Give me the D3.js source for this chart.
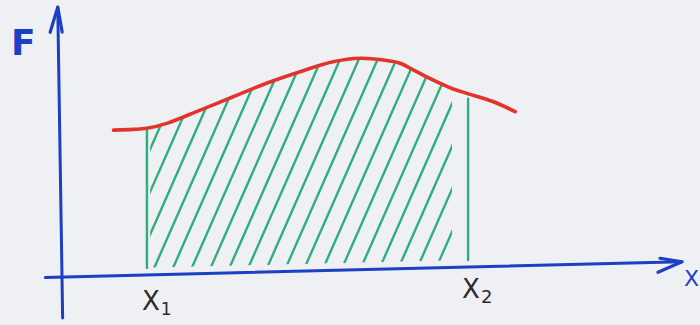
<!DOCTYPE html>
<html>
<head>
<meta charset="utf-8">
<script src="https://cdn.jsdelivr.net/npm/d3@7"></script>
<style>
  html, body { margin: 0; padding: 0; background: #eff0f4; }
  svg { display: block; }
</style>
</head>
<body>
<svg id="chart" width="700" height="325"></svg>
<script>
// Force curve F(x) and the work interval [x1, x2]
const curveX = [0.83, 1.15, 1.37, 1.69, 2.23, 2.76, 3.30, 3.84, 4.37, 4.81, 5.18, 5.45, 5.72, 5.98, 6.31, 6.53, 6.95, 7.31];
const curveF = [5.60, 5.61, 5.64, 5.81, 6.29, 6.77, 7.26, 7.67, 8.02, 8.13, 8.04, 7.90, 7.56, 7.23, 6.86, 6.68, 6.34, 5.93];
const bounds = [1.37, 6.55];
const boundLabels = ["1", "2"];
const axisLabels = ["F", "X"];

const BLUE = "#1c3fc4", RED = "#e2342c", GREEN = "#2eae7d", INK = "#2b2b2b";

const svg = d3.select("#chart");
const x = d3.scaleLinear().domain([0, 10]).range([62, 682]);
const y = d3.scaleLinear().domain([0, 10]).range([277, 17]);

const pts = curveX.map((v, i) => ({ x: v, f: curveF[i] }));
const fAt = d3.scaleLinear().domain(curveX).range(curveF);

// Slightly slanted paper: horizontal lines drop a little towards the left
const paper = svg.append("g")
  .attr("transform", `translate(${x(0)},0) skewY(-1.41) translate(${-x(0)},0)`);

// Hatched area under the curve between x1 and x2
const gap = 7;       // hatch stops short of the x axis
const rightInset = 13;
const clipArea = d3.area()
  .x(d => d.x)
  .y0(y(0) - gap)
  .y1(d => d.y)
  .curve(d3.curveLinear);
const clipPts = d3.range(0, 101).map(i => {
  const xv = bounds[0] + (bounds[1] - bounds[0]) * i / 100;
  return { x: x(xv), y: y(fAt(xv)) + 1 };
}).filter(d => d.x >= x(bounds[0]) + 3 && d.x <= x(bounds[1]) - rightInset);

paper.append("clipPath").attr("id", "hatch-clip")
  .append("path").attr("d", clipArea(clipPts));

const angle = 66 * Math.PI / 180;
const span = 260;
const dx = span / Math.tan(angle);
const step = 19;
const hatchStarts = d3.range(x(bounds[0]) - dx + 6, x(bounds[1]) + 4, step);
paper.append("g").attr("clip-path", "url(#hatch-clip)")
  .selectAll("line").data(hatchStarts).join("line")
  .attr("x1", d => d).attr("y1", y(0))
  .attr("x2", d => d + dx).attr("y2", y(0) - span)
  .attr("stroke", GREEN).attr("stroke-width", 2.4).attr("stroke-linecap", "round");

// Vertical bounds at x1 and x2
paper.selectAll("line.bound").data(bounds).join("line")
  .attr("class", "bound")
  .attr("x1", d => x(d)).attr("x2", d => x(d))
  .attr("y1", y(0) - gap)
  .attr("y2", (d, i) => y(fAt(d)) + (i === 0 ? 0 : 5))
  .attr("stroke", GREEN).attr("stroke-width", 2.4).attr("stroke-linecap", "round");

// Force curve
paper.append("path")
  .attr("d", d3.line().x(d => x(d.x)).y(d => y(d.f)).curve(d3.curveCatmullRom)(pts))
  .attr("fill", "none").attr("stroke", RED).attr("stroke-width", 3.6)
  .attr("stroke-linecap", "round").attr("stroke-linejoin", "round");

// x axis with open arrowhead
const xStart = -0.27, xEnd = 10;
paper.append("line")
  .attr("x1", x(xStart)).attr("y1", y(0))
  .attr("x2", x(xEnd)).attr("y2", y(0))
  .attr("stroke", BLUE).attr("stroke-width", 3).attr("stroke-linecap", "round");
const tx = x(xEnd), ty = y(0);
paper.append("path")
  .attr("d", `M${tx - 22},${ty - 4} L${tx},${ty} L${tx - 24},${ty + 10}`)
  .attr("fill", "none").attr("stroke", BLUE).attr("stroke-width", 3.2)
  .attr("stroke-linecap", "round").attr("stroke-linejoin", "round");

// y axis with open arrowhead
const yAxis = svg.append("g")
  .attr("transform", `rotate(-0.9, ${x(0)}, ${y(0)})`);
const yBottom = -1.58, yTop = 10.38;
yAxis.append("line")
  .attr("x1", x(0)).attr("y1", y(yBottom))
  .attr("x2", x(0)).attr("y2", y(yTop))
  .attr("stroke", BLUE).attr("stroke-width", 3).attr("stroke-linecap", "round");
const ax = x(0), ay = y(yTop);
yAxis.append("path")
  .attr("d", `M${ax - 8},${ay + 25} L${ax},${ay} L${ax + 4},${ay + 25}`)
  .attr("fill", "none").attr("stroke", BLUE).attr("stroke-width", 3.2)
  .attr("stroke-linecap", "round").attr("stroke-linejoin", "round");

// Axis names
svg.append("text")
  .attr("x", 11).attr("y", 55)
  .attr("font-family", "DejaVu Sans").attr("font-size", 36).attr("font-weight", 600)
  .attr("fill", BLUE).text(axisLabels[0]);
svg.append("text")
  .attr("x", 684).attr("y", 286)
  .attr("font-family", "DejaVu Sans").attr("font-size", 22)
  .attr("fill", BLUE).text(axisLabels[1]);

// Bound labels x1, x2
const labelPos = [{ dx: -5, y: 310 }, { dx: -6, y: 298 }];
bounds.forEach((b, i) => {
  const t = svg.append("text")
    .attr("x", x(b) + labelPos[i].dx).attr("y", labelPos[i].y)
    .attr("font-family", "DejaVu Sans").attr("font-size", 26)
    .attr("fill", INK);
  t.append("tspan").text("X");
  t.append("tspan").attr("dx", 1).attr("dy", 5)
    .attr("font-size", i === 0 ? 17 : 18).text(boundLabels[i]);
});
</script>
</body>
</html>
